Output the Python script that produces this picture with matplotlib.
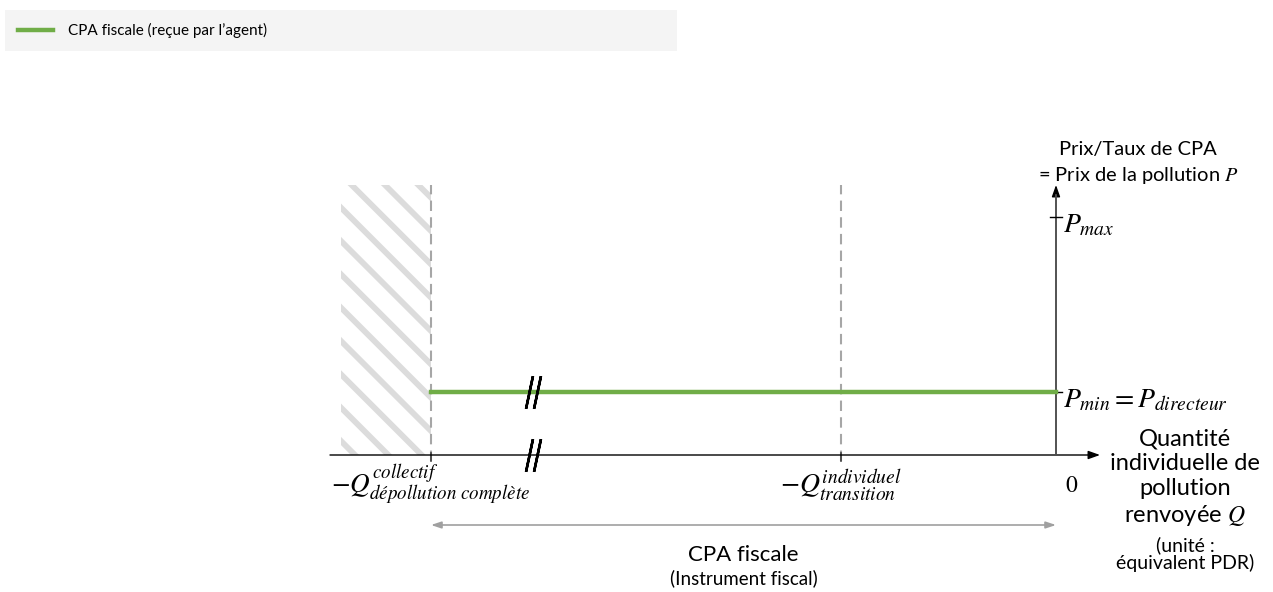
import matplotlib
matplotlib.use("Agg")
import matplotlib.pyplot as plt
from matplotlib.patches import Rectangle

# schematic values (x: pollution quantity, y: price), arbitrary units
q_collectif = -6.25      # -Q collectif (dépollution complète)
q_transition = -2.15     # -Q individuel (transition)
q_zero = 0.0
q_hatch_left = -7.15
q_break = -5.24          # axis break position
p_min = 0.63             # P_min = P_directeur
p_max = 2.38
p_top = 2.70
x_axis_left = -7.26
x_axis_right = 0.44

series_label = "CPA fiscale (reçue par l’agent)"
green = "#70ad47"
grey_dash = "#a6a6a6"

plt.rcParams["font.family"] = ["Lato", "DejaVu Sans"]
plt.rcParams["mathtext.fontset"] = "stix"
plt.rcParams["hatch.linewidth"] = 4.2

fig = plt.figure(figsize=(12.73, 5.92), dpi=100)
ax = fig.add_axes([0, 0, 1, 1])
ax.set_xlim(-10.56, 2.17)
ax.set_ylim(-1.37, 4.55)
ax.axis("off")

# hatched zone beyond complete depollution
ax.add_patch(Rectangle((q_hatch_left, 0), q_collectif - q_hatch_left, p_top,
                       facecolor="white", edgecolor="#dcdcdc", hatch="\\", lw=0, zorder=1))

# dashed verticals
for q in (q_collectif, q_transition):
    ax.plot([q, q], [-0.06, p_top], color=grey_dash, lw=1.5, ls=(0, (5, 3)), zorder=2)
    ax.plot([q, q], [-0.06, 0.02], color="#404040", lw=1.2, zorder=3)

# axes with arrows
ax.annotate("", xy=(x_axis_right, 0), xytext=(x_axis_left, 0),
            arrowprops=dict(arrowstyle="-|>,head_length=0.7,head_width=0.25", color="black", lw=1.0,
                            shrinkA=0, shrinkB=0), zorder=3)
ax.annotate("", xy=(q_zero, p_top), xytext=(q_zero, 0),
            arrowprops=dict(arrowstyle="-|>,head_length=0.7,head_width=0.25", color="black", lw=1.0,
                            shrinkA=0, shrinkB=0), zorder=3)
ax.plot([q_zero, q_zero], [0, p_top - 0.1], color="#595959", lw=1.2, zorder=3)

# price ticks
for p in (p_min, p_max):
    ax.plot([q_zero - 0.06, q_zero + 0.06], [p, p], color="black", lw=1.0, zorder=4)

# policy line
ax.plot([q_collectif, q_zero], [p_min, p_min], color=green, lw=3.2, zorder=4, label=series_label)

# axis breaks
for y in (p_min, 0):
    ax.plot([q_break - 0.03, q_break + 0.05], [y, y], ls="none", marker=(2, 2, -12),
            ms=24, mew=1.8, color="black", zorder=5)

# labels
ax.text(q_collectif, -0.3, r"$-Q^{collectif}_{dépollution\ complète}$", ha="center", va="center",
        fontsize=19.5)
ax.text(q_transition, -0.3, r"$-Q^{individuel}_{transition}$", ha="center", va="center", fontsize=20)
ax.text(q_zero + 0.16, -0.3, r"$0$", ha="center", va="center", fontsize=17)
ax.text(q_zero + 0.07, p_max - 0.08, r"$P_{max}$", ha="left", va="center", fontsize=20)
ax.text(q_zero + 0.07, p_min - 0.08, r"$P_{min}=P_{directeur}$", ha="left", va="center", fontsize=20)

ax.text(0.82, 3.05, "Prix/Taux de CPA", ha="center", va="center", fontsize=14.5)
ax.text(0.82, 2.80, r"= Prix de la pollution $P$", ha="center", va="center", fontsize=14.5)

ax.text(1.29, -0.23, "Quantité\nindividuelle de\npollution\nrenvoyée $Q$", ha="center", va="center",
        fontsize=17, linespacing=1.22)
ax.text(1.29, -0.99, "(unité :\néquivalent PDR)", ha="center", va="center", fontsize=14,
        linespacing=0.98)

# range arrow
ax.annotate("", xy=(q_zero, -0.7), xytext=(q_collectif, -0.7),
            arrowprops=dict(arrowstyle="<|-|>,head_length=0.6,head_width=0.2", color="#a0a0a0",
                            lw=1.2, shrinkA=0, shrinkB=0))
ax.text((q_collectif + q_zero) / 2, -1.0, "CPA fiscale", ha="center", va="center", fontsize=16)
ax.text((q_collectif + q_zero) / 2, -1.23, "(Instrument fiscal)", ha="center", va="center", fontsize=13.5)

leg = ax.legend(loc="upper left", bbox_to_anchor=(5 / 1273, 1 - 50 / 592, 672 / 1273, 40 / 592),
                bbox_transform=fig.transFigure, mode="expand", borderaxespad=0, frameon=True,
                fancybox=False, fontsize=11, handlelength=2.3, handletextpad=1.0, borderpad=0.85)
leg.get_frame().set_facecolor("#f2f2f2")
leg.get_frame().set_edgecolor("none")

fig.savefig("out.png", dpi=100)
